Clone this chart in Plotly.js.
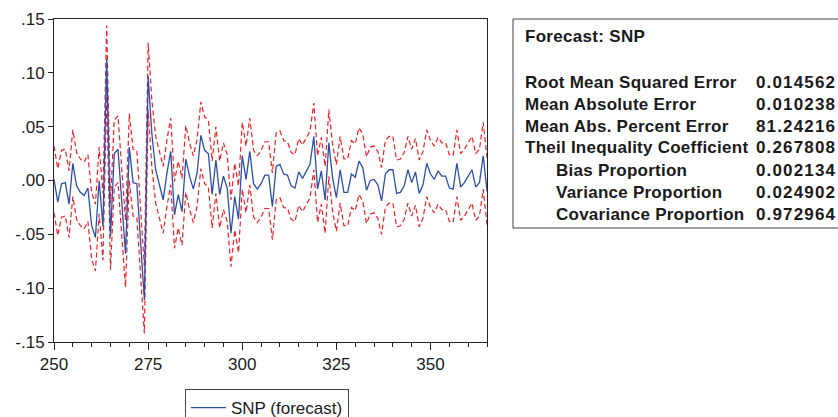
<!DOCTYPE html>
<html>
<head>
<meta charset="utf-8">
<script src="https://cdn.plot.ly/plotly-3.0.1.min.js"></script>
<style>html,body{margin:0;padding:0;background:#fff;}#chart{width:838px;height:417px;}</style>
</head>
<body>
<div id="chart"></div>
<script>
// ---- data ----
const startObs = 250;
const forecast = [
 0.001,-0.020,-0.003,-0.002,-0.022, 0.016,-0.005,-0.011,-0.014,-0.007,
-0.042,-0.053, 0.000,-0.043, 0.113,-0.052, 0.025, 0.029,-0.020,-0.068,
 0.031,-0.002,-0.003,-0.056,-0.111, 0.097, 0.043, 0.010,-0.005,-0.018,
 0.007, 0.027,-0.032,-0.013,-0.029, 0.020, 0.004,-0.008, 0.007, 0.042,
 0.028, 0.025,-0.013, 0.019,-0.013, 0.004,-0.007,-0.049,-0.015,-0.036,
 0.023, 0.001, 0.027,-0.003,-0.008,-0.003, 0.005, 0.005,-0.024, 0.013,
 0.015, 0.006, 0.005,-0.005,-0.007, 0.008, 0.002, 0.008, 0.015, 0.041,
-0.008, 0.009,-0.018, 0.035, 0.002,-0.016, 0.010,-0.011,-0.011, 0.006,
 0.003, 0.018, 0.012,-0.009, 0.000, 0.001,-0.004,-0.019, 0.006, 0.010,
 0.010,-0.012,-0.011,-0.005, 0.010,-0.002, 0.008,-0.012,-0.004, 0.016,
 0.006, 0.001, 0.009, 0.004, 0.004,-0.007,-0.008, 0.016,-0.006,-0.002,
 0.004, 0.010,-0.006,-0.002, 0.023,-0.010
];
const upperBand = [
 0.032, 0.011, 0.028, 0.029, 0.009, 0.047, 0.026, 0.020, 0.017, 0.024,
-0.011,-0.022, 0.031,-0.012, 0.144,-0.021, 0.056, 0.060, 0.011,-0.037,
 0.062, 0.029, 0.028,-0.025,-0.080, 0.128, 0.074, 0.041, 0.026, 0.013,
 0.038, 0.058,-0.001, 0.018, 0.002, 0.051, 0.035, 0.023, 0.038, 0.073,
 0.059, 0.056, 0.018, 0.050, 0.018, 0.035, 0.024,-0.018, 0.016,-0.005,
 0.054, 0.032, 0.058, 0.028, 0.023, 0.028, 0.036, 0.036, 0.007, 0.044,
 0.046, 0.037, 0.036, 0.026, 0.024, 0.039, 0.033, 0.039, 0.046, 0.072,
 0.023, 0.040, 0.013, 0.066, 0.033, 0.015, 0.041, 0.020, 0.020, 0.037,
 0.034, 0.049, 0.043, 0.022, 0.031, 0.032, 0.027, 0.012, 0.037, 0.041,
 0.041, 0.019, 0.020, 0.026, 0.041, 0.029, 0.039, 0.019, 0.027, 0.047,
 0.037, 0.032, 0.040, 0.035, 0.035, 0.024, 0.023, 0.047, 0.025, 0.029,
 0.035, 0.041, 0.025, 0.029, 0.054, 0.021
];
const lowerBand = [
-0.030,-0.051,-0.034,-0.033,-0.053,-0.015,-0.036,-0.042,-0.045,-0.038,
-0.073,-0.084,-0.031,-0.074, 0.082,-0.083,-0.006,-0.002,-0.051,-0.099,
 0.000,-0.033,-0.034,-0.087,-0.142, 0.066, 0.012,-0.021,-0.036,-0.049,
-0.024,-0.004,-0.063,-0.044,-0.060,-0.011,-0.027,-0.039,-0.024, 0.011,
-0.003,-0.006,-0.044,-0.012,-0.044,-0.027,-0.038,-0.080,-0.046,-0.067,
-0.008,-0.030,-0.004,-0.034,-0.039,-0.034,-0.026,-0.026,-0.055,-0.018,
-0.016,-0.025,-0.026,-0.036,-0.038,-0.023,-0.029,-0.023,-0.016, 0.010,
-0.039,-0.022,-0.049, 0.004,-0.029,-0.047,-0.021,-0.042,-0.042,-0.025,
-0.028,-0.013,-0.019,-0.040,-0.031,-0.030,-0.035,-0.050,-0.025,-0.021,
-0.021,-0.043,-0.042,-0.036,-0.021,-0.033,-0.023,-0.043,-0.035,-0.015,
-0.025,-0.030,-0.022,-0.027,-0.027,-0.038,-0.039,-0.015,-0.037,-0.033,
-0.027,-0.021,-0.037,-0.033,-0.008,-0.041
];
const obs = forecast.map((_, i) => startObs + i);

const yTickVals = [0.15, 0.10, 0.05, 0.00, -0.05, -0.10, -0.15];
const yTickText = ['.15', '.10', '.05', '.00', '-.05', '-.10', '-.15'];

const statsTitle = 'Forecast: SNP';
const statLabels = ['Root Mean Squared Error', 'Mean Absolute Error', 'Mean Abs. Percent Error',
  'Theil Inequality Coefficient', 'Bias Proportion', 'Variance Proportion', 'Covariance Proportion'];
const statValues = ['0.014562', '0.010238', '81.24216', '0.267808', '0.002134', '0.024902', '0.972964'];
const statIndent = [false, false, false, false, true, true, true];

// ---- layout helpers (pixel -> paper) ----
const PL = 54, PR = 487, PT = 19, PB = 342;
const px = x => (x - PL) / (PR - PL);
const py = y => (PB - y) / (PB - PT);
const FONT = 'Liberation Sans, Arial, Helvetica, sans-serif';
const INK = '#1a1a1a';

const red = '#f01f25';
const traces = [
  { x: obs, y: upperBand, type: 'scatter', mode: 'lines', name: '\u00b1 2 S.E.', showlegend: false,
    line: { color: red, width: 1.2, dash: '5px,3px' }, hoverinfo: 'skip' },
  { x: obs, y: lowerBand, type: 'scatter', mode: 'lines', name: '\u00b1 2 S.E.', showlegend: false,
    line: { color: red, width: 1.2, dash: '5px,3px' }, hoverinfo: 'skip' },
  { x: obs, y: forecast, type: 'scatter', mode: 'lines', name: 'SNP (forecast)',
    line: { color: '#2a4fa8', width: 1.3 } }
];

const annotations = [];
annotations.push({ xref: 'paper', yref: 'paper', x: px(523), y: py(37), xanchor: 'left', yanchor: 'middle',
  text: '<b>' + statsTitle + '</b>', showarrow: false, font: { family: FONT, size: 17, color: INK } });
const rowY = [82, 104, 126, 148, 170, 192, 214];
statLabels.forEach((lab, i) => {
  annotations.push({ xref: 'paper', yref: 'paper', x: px(statIndent[i] ? 554 : 523), y: py(rowY[i]),
    xanchor: 'left', yanchor: 'middle', text: '<b>' + lab + '</b>', showarrow: false,
    font: { family: FONT, size: 17, color: INK } });
  annotations.push({ xref: 'paper', yref: 'paper', x: px(754), y: py(rowY[i]),
    xanchor: 'left', yanchor: 'middle', text: '<b>' + statValues[i] + '</b>', showarrow: false,
    font: { family: FONT, size: 17, color: INK } });
});

const layout = {
  width: 838, height: 417,
  margin: { l: PL, r: 838 - PR, t: PT, b: 417 - PB, autoexpand: false },
  paper_bgcolor: '#fff', plot_bgcolor: '#fff',
  font: { family: FONT, size: 17, color: INK },
  showlegend: true,
  legend: { x: px(185), y: py(389), xanchor: 'left', yanchor: 'top', bgcolor: '#fff', itemwidth: 35,
    bordercolor: '#444', borderwidth: 1, font: { family: FONT, size: 17, color: INK } },
  xaxis: { range: [250, 365], tickmode: 'linear', tick0: 250, dtick: 25, ticks: 'outside', ticklen: 7,
    tickcolor: '#222', tickwidth: 1, showline: true, mirror: true, linecolor: '#222', linewidth: 1,
    showgrid: false, zeroline: false, tickfont: { family: FONT, size: 17, color: INK },
    minor: { dtick: 5, tick0: 250, ticks: 'outside', ticklen: 4, tickcolor: '#222', showgrid: false } },
  yaxis: { range: [-0.15, 0.15], tickmode: 'array', tickvals: yTickVals, ticktext: yTickText,
    ticks: 'outside', ticklen: 5, tickcolor: '#222', showline: true, mirror: true, linecolor: '#222',
    linewidth: 1, showgrid: false, zeroline: false, tickfont: { family: FONT, size: 17, color: INK } },
  shapes: [
    { type: 'rect', xref: 'paper', yref: 'paper', x0: px(513), x1: px(850), y0: py(228), y1: py(19),
      line: { color: '#444', width: 1 } }
  ],
  annotations: annotations
};

Plotly.newPlot('chart', traces, layout, { displayModeBar: false, staticPlot: true }).then(gd => {
  // EViews renders the stats table with slightly wider letter spacing; keep left edges fixed
  const nodes = gd.querySelectorAll('.annotation-text');
  nodes.forEach((t, i) => {
    const before = t.getBBox().x;
    t.style.letterSpacing = (i === 0) ? '0.3px' : ((i % 2 === 1) ? '0.25px' : '1.15px');
    const after = t.getBBox().x;
    const x0 = parseFloat(t.getAttribute('x') || '0');
    t.setAttribute('x', x0 + (before - after));
  });
});
</script>
</body>
</html>
